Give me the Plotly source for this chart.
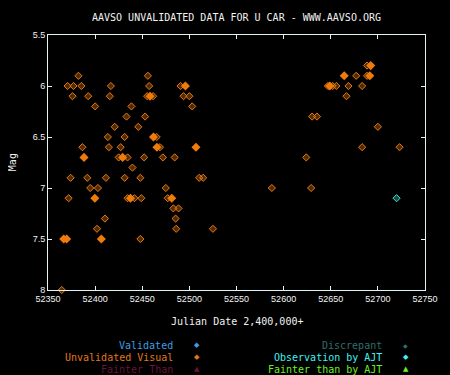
import plotly.graph_objects as go

# Unvalidated visual observations (single, checkered diamonds)
open_jd = [52382.3, 52456.0,
           52370.8, 52377.0, 52385.4, 52416.7, 52457.3, 52490.6,
           52376.0, 52392.7, 52415.6, 52455.2, 52461.5, 52493.8, 52500.0,
           52400.0, 52438.5, 52503.0,
           52433.3, 52453.0,
           52420.8, 52445.8,
           52413.5, 52431.3, 52465.3,
           52386.5, 52414.6, 52427.1, 52468.8,
           52425.0, 52434.4, 52452.0, 52471.9, 52484.4,
           52439.6,
           52374.0, 52391.7, 52411.5, 52431.3, 52448.0, 52510.4, 52514.6,
           52394.8, 52403.0, 52475.0, 52587.5,
           52371.9, 52434.4, 52441.7, 52449.0, 52477.0,
           52483.0, 52488.5,
           52410.4, 52485.4,
           52402.0, 52486.0, 52525.0,
           52448.0,
           52688.5, 52677.0, 52688.5,
           52647.0, 52652.0, 52656.0, 52668.8, 52683.3,
           52666.7,
           52630.2, 52635.4,
           52700.0,
           52683.3, 52723.0,
           52624.0,
           52629.2,
           52364.6]
open_mag = [5.9, 5.9,
            6.0, 6.0, 6.0, 6.0, 6.0, 6.0,
            6.1, 6.1, 6.1, 6.1, 6.1, 6.1, 6.1,
            6.2, 6.2, 6.2,
            6.3, 6.3,
            6.4, 6.4,
            6.5, 6.5, 6.5,
            6.6, 6.6, 6.6, 6.6,
            6.7, 6.7, 6.7, 6.7, 6.7,
            6.8,
            6.9, 6.9, 6.9, 6.9, 6.9, 6.9, 6.9,
            7.0, 7.0, 7.0, 7.0,
            7.1, 7.1, 7.1, 7.1, 7.1,
            7.2, 7.2,
            7.3, 7.3,
            7.4, 7.4, 7.4,
            7.5,
            5.8, 5.9, 5.9,
            6.0, 6.0, 6.0, 6.0, 6.0,
            6.1,
            6.3, 6.3,
            6.4,
            6.6, 6.6,
            6.7,
            7.0,
            8.0]

# Overlapping (stacked) unvalidated observations -> solid diamonds
solid_jd = [52458.3, 52461.9, 52465.6, 52388.2, 52429.2, 52495.8, 52507.0,
            52399.7, 52437.5, 52481.3,
            52366.7, 52369.8, 52406.6,
            52692.4, 52664.3, 52691.4, 52649.0]
solid_mag = [6.1, 6.5, 6.6, 6.7, 6.7, 6.0, 6.6,
             7.1, 7.1, 7.1,
             7.5, 7.5, 7.5,
             5.8, 5.9, 5.9, 6.0]

# Observation by AJT
ajt_jd = [52719.8]
ajt_mag = [7.1]

x_ticks = [52350, 52400, 52450, 52500, 52550, 52600, 52650, 52700, 52750]
y_ticks = [5.5, 6, 6.5, 7, 7.5, 8]
y_tick_text = ["5.5", "6", "6.5", "7", "7.5", "8"]

title = "AAVSO UNVALIDATED DATA FOR U CAR - WWW.AAVSO.ORG"
legend_left = [("Validated", "#3c9ee0", "◆"),
               ("Unvalidated Visual", "#e07818", "◆"),
               ("Fainter Than", "#6a1238", "▲")]
legend_right = [("Discrepant", "#2f6e6e", "◆"),
                ("Observation by AJT", "#3ff2ee", "◆"),
                ("Fainter than by AJT", "#6ef01e", "▲")]

ORANGE = "#e87a12"
AXIS = "#dff6f6"
MONO = "DejaVu Sans Mono"

# page body has an 8px margin: the figure starts at (8, 8) in the window
OFF = 8
L, T = 48 - OFF, 35 - OFF
PW, PH = 384, 255

fig = go.Figure()
fig.add_trace(go.Scatter(
    x=open_jd, y=open_mag, mode="markers", cliponaxis=False,
    marker=dict(symbol="diamond", size=5.5, color="rgba(232,122,18,0.35)",
                line=dict(width=1, color=ORANGE)),
    showlegend=False, hoverinfo="x+y"))
fig.add_trace(go.Scatter(
    x=solid_jd, y=solid_mag, mode="markers",
    marker=dict(symbol="diamond", size=7, color="#f07a0a", line=dict(width=0)),
    showlegend=False, hoverinfo="x+y"))
fig.add_trace(go.Scatter(
    x=ajt_jd, y=ajt_mag, mode="markers",
    marker=dict(symbol="diamond", size=5.5, color="rgba(64,224,200,0.35)",
                line=dict(width=1, color="#40e0c8")),
    showlegend=False, hoverinfo="x+y"))

axis_common = dict(showgrid=False, zeroline=False, showline=True, linecolor=AXIS,
                   linewidth=1, mirror="allticks", ticks="inside", ticklen=4,
                   tickcolor=AXIS, tickwidth=1,
                   tickfont=dict(family="Liberation Sans", size=9, color="#f4f4f4"))

fig.update_xaxes(range=[52350, 52750], tickvals=x_ticks,
                 ticktext=[str(v) for v in x_ticks], **axis_common)
fig.update_yaxes(range=[8, 5.5], tickvals=y_ticks, ticktext=y_tick_text,
                 autorange=False, **axis_common)

annotations = [
    dict(text=title, x=0.5, y=1 + 17.5 / PH, xref="paper", yref="paper",
         showarrow=False, xanchor="center", yanchor="middle",
         font=dict(family=MONO, size=10, color="#f2f2f2")),
    dict(text="Julian Date 2,400,000+", x=0.5, y=-31 / PH, xref="paper", yref="paper",
         showarrow=False, xanchor="center", yanchor="middle",
         font=dict(family=MONO, size=10, color="#f2f2f2")),
    dict(text="Mag", x=-36 / PW, y=0.5, xref="paper", yref="paper", textangle=-90,
         showarrow=False, xanchor="center", yanchor="middle",
         font=dict(family=MONO, size=10, color="#f2f2f2")),
]
rows_y = [-55 / PH, -67 / PH, -79 / PH]
for (txt, col, sym), ry in zip(legend_left, rows_y):
    annotations.append(dict(text=txt, x=(177.5 - 48) / PW, y=ry, xref="paper", yref="paper",
                            showarrow=False, xanchor="right", yanchor="middle",
                            font=dict(family=MONO, size=10, color=col)))
    annotations.append(dict(text=sym, x=(199.5 - 48) / PW, y=ry, xref="paper", yref="paper",
                            showarrow=False, xanchor="center", yanchor="middle",
                            font=dict(family="DejaVu Sans", size=7, color=col)))
for (txt, col, sym), ry in zip(legend_right, rows_y):
    annotations.append(dict(text=txt, x=(390.5 - 48) / PW, y=ry, xref="paper", yref="paper",
                            showarrow=False, xanchor="right", yanchor="middle",
                            font=dict(family=MONO, size=10, color=col)))
    annotations.append(dict(text=sym, x=(412.5 - 48) / PW, y=ry, xref="paper", yref="paper",
                            showarrow=False, xanchor="center", yanchor="middle",
                            font=dict(family="DejaVu Sans", size=6 if txt == "Discrepant" else 7,
                                      color=col)))

W, H = 450 - OFF, 375 - OFF
fig.update_layout(
    width=W, height=H,
    margin=dict(l=L, r=W - L - PW, t=T, b=H - T - PH, pad=0),
    paper_bgcolor="#000000", plot_bgcolor="#000000",
    annotations=annotations,
    showlegend=False,
)

fig.write_html(
    "out.html",
    post_script="document.body.style.background='#000000';"
                "document.documentElement.style.background='#000000';",
)
